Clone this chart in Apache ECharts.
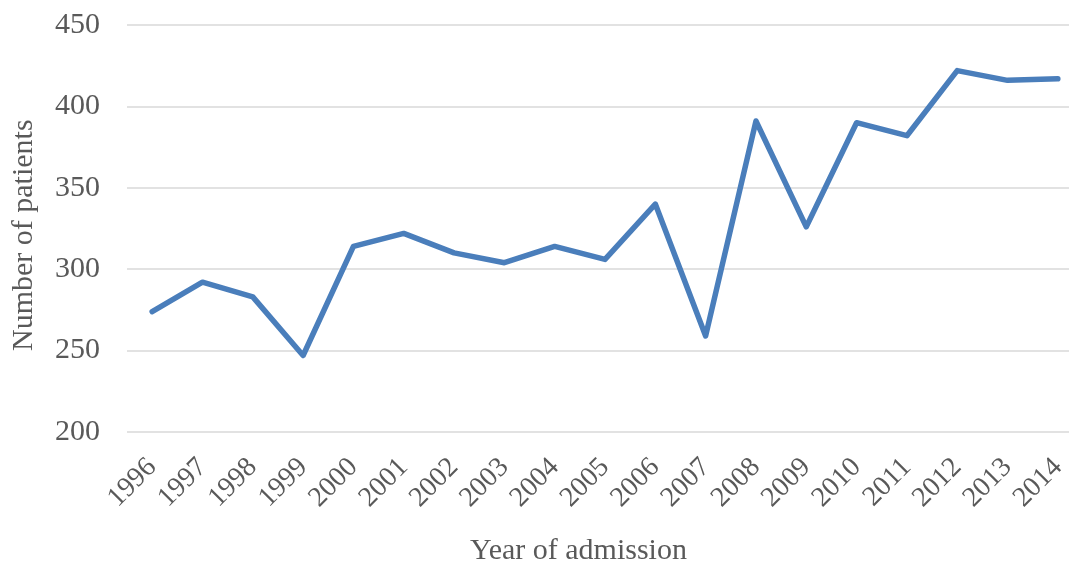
<!DOCTYPE html>
<html>
<head>
<meta charset="utf-8">
<script src="https://cdn.jsdelivr.net/npm/echarts@6/dist/echarts.min.js"></script>
<style>
  html, body { margin: 0; padding: 0; background: #fff; }
  #chart-patients { width: 1069px; height: 572px; }
</style>
</head>
<body>
<div id="chart-patients"></div>
<script>
const years = ["1996", "1997", "1998", "1999", "2000", "2001", "2002", "2003", "2004", "2005",
  "2006", "2007", "2008", "2009", "2010", "2011", "2012", "2013", "2014"];
const patients = [274, 292, 283, 247, 314, 322, 310, 304, 314, 306,
  340, 259, 391, 326, 390, 382, 422, 416, 417];
const yTicks = [200, 250, 300, 350, 400, 450];

const chart = echarts.init(document.getElementById("chart-patients"));
const font = "'Liberation Serif', 'Times New Roman', serif";

chart.setOption({
  animation: false,
  grid: { left: 127, top: 25, width: 956, height: 407, outerBoundsMode: "none", containLabel: false },
  xAxis: {
    type: "category",
    data: years,
    boundaryGap: true,
    axisLine: { show: false },
    axisTick: { show: false },
    axisLabel: {
      rotate: 45,
      margin: 31,
      interval: 0,
      fontFamily: font,
      fontSize: 28,
      color: "#595959",
    },
  },
  yAxis: {
    type: "value",
    min: yTicks[0],
    max: yTicks[yTicks.length - 1],
    interval: 50,
    axisLine: { show: false },
    axisTick: { show: false },
    axisLabel: {
      margin: 27,
      fontFamily: font,
      fontSize: 30,
      color: "#595959",
    },
    splitLine: { lineStyle: { color: "#d9d9d9", width: 1.5 } },
  },
  graphic: [
    {
      type: "text",
      left: 470,
      top: 536,
      style: { text: "Year of admission", font: "30px " + font, fill: "#595959" },
    },
    {
      type: "text",
      x: 9,
      y: 351,
      rotation: Math.PI / 2,
      style: { text: "Number of patients", font: "30px " + font, fill: "#595959" },
    },
  ],
  series: [
    {
      type: "line",
      data: patients,
      symbol: "none",
      lineStyle: { color: "#4a7ebb", width: 5.5, cap: "round", join: "round" },
    },
  ],
});
</script>
</body>
</html>
